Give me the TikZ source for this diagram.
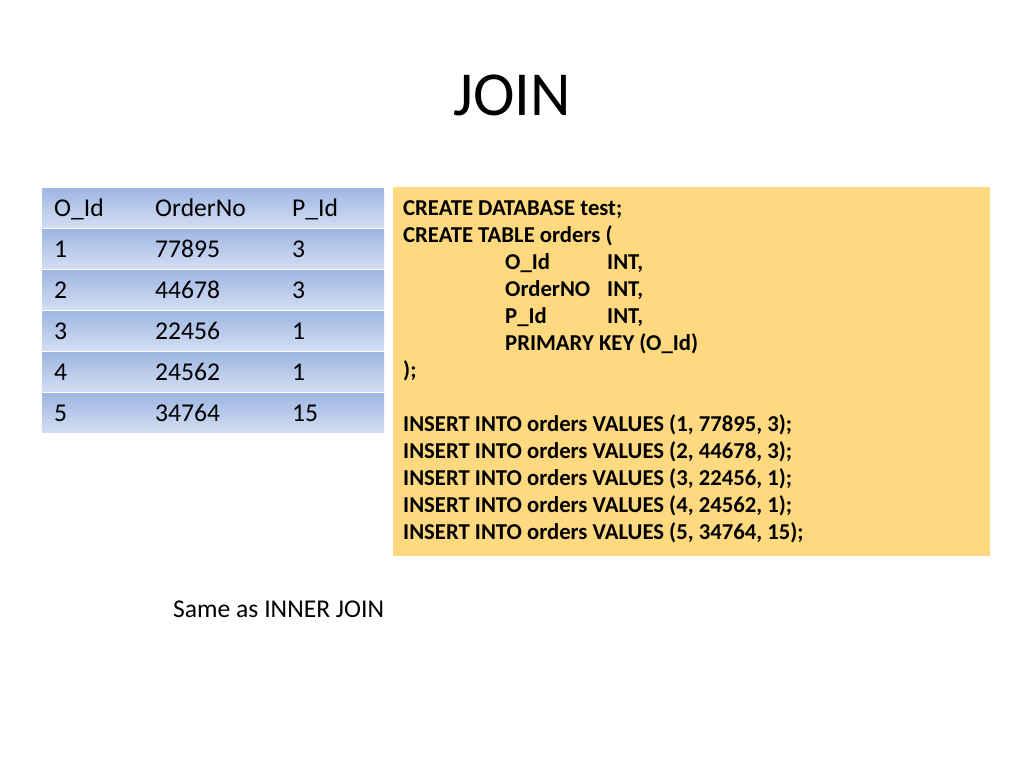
\documentclass[tikz,border=0pt]{standalone}
\usepackage{fontspec}
\setmainfont{Carlito}
\begin{document}
\begin{tikzpicture}[x=1pt,y=-1pt,
  rowbox/.style={top color=rowtop,bottom color=rowbot,draw=none},
  cell/.style={anchor=base west,inner sep=0pt,font=\fontsize{25.6}{30}\selectfont},
  code/.style={anchor=base west,inner sep=0pt,font=\fontsize{22.7}{27}\selectfont\bfseries}]
\definecolor{rowtop}{HTML}{9EB6E2}
\definecolor{rowbot}{HTML}{D2DDF2}
\definecolor{codebg}{HTML}{FFD97F}
\useasboundingbox (0,0) rectangle (1024,768);
\fill[white] (0,0) rectangle (1024,768);
\node[anchor=base,inner sep=0pt,font=\fontsize{62.6}{70}\selectfont] (title) at (512,115) {JOIN};
% table
\foreach \i in {0,...,5}{
  \path[rowbox] (42,{187+41*\i+1}) rectangle (384,{187+41*(\i+1)-1});
}
\node[cell] (h1) at (54,216) {O\_Id};
\node[cell] (h2) at (155,216) {OrderNo};
\node[cell] (h3) at (292,216) {P\_Id};
\node[cell] (r1a) at (54,257) {1};
\node[cell] (r1b) at (155,257) {77895};
\node[cell] (r1c) at (292,257) {3};
\node[cell] (r2a) at (54,298) {2};
\node[cell] (r2b) at (155,298) {44678};
\node[cell] (r2c) at (292,298) {3};
\node[cell] (r3a) at (54,339) {3};
\node[cell] (r3b) at (155,339) {22456};
\node[cell] (r3c) at (292,339) {1};
\node[cell] (r4a) at (54,380) {4};
\node[cell] (r4b) at (155,380) {24562};
\node[cell] (r4c) at (292,380) {1};
\node[cell] (r5a) at (54,421) {5};
\node[cell] (r5b) at (155,421) {34764};
\node[cell] (r5c) at (292,421) {15};
% code box
\fill[codebg] (393,187) rectangle (990,556);
\node[code] (c1) at (403,215) {CREATE DATABASE test;};
\node[code] (c2) at (403,242) {CREATE TABLE orders (};
\node[code] (c3a) at (505,269) {O\_Id};
\node[code] (c3b) at (607,269) {INT,};
\node[code] (c4a) at (505,296) {OrderNO};
\node[code] (c4b) at (607,296) {INT,};
\node[code] (c5a) at (505,323) {P\_Id};
\node[code] (c5b) at (607,323) {INT,};
\node[code] (c6) at (505,350) {PRIMARY KEY (O\_Id)};
\node[code] (c7) at (403,377) {);};
\node[code] (i1) at (403,431) {INSERT INTO orders VALUES (1, 77895, 3);};
\node[code] (i2) at (403,458) {INSERT INTO orders VALUES (2, 44678, 3);};
\node[code] (i3) at (403,485) {INSERT INTO orders VALUES (3, 22456, 1);};
\node[code] (i4) at (403,512) {INSERT INTO orders VALUES (4, 24562, 1);};
\node[code] (i5) at (403,539) {INSERT INTO orders VALUES (5, 34764, 15);};
\node[anchor=base west,inner sep=0pt,font=\fontsize{25.6}{30}\selectfont] (same) at (173,617) {Same as INNER JOIN};
\end{tikzpicture}
\end{document}
